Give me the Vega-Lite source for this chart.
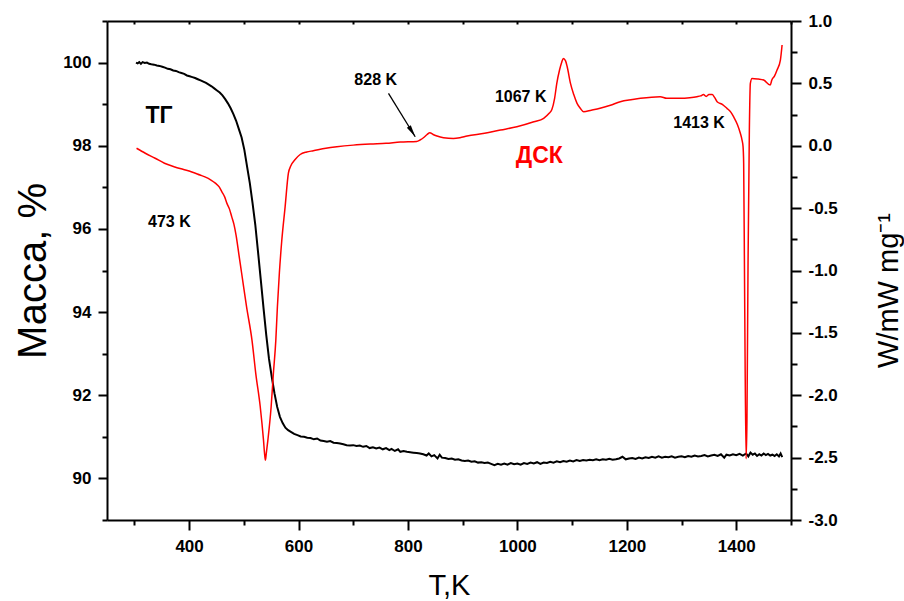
{
  "$schema": "https://vega.github.io/schema/vega-lite/v6.json",
  "width": 684,
  "height": 499,
  "autosize": {"type": "none"},
  "padding": {"left": 107, "top": 21, "right": 113, "bottom": 81},
  "background": "white",
  "config": {
    "view": {"stroke": null},
    "axis": {
      "grid": false,
      "labelFont": "Liberation Sans",
      "labelFontWeight": "bold",
      "labelFontSize": 17,
      "labelColor": "black",
      "tickColor": "black",
      "tickWidth": 2,
      "domainColor": "black",
      "domainWidth": 2,
      "titleFont": "Liberation Sans",
      "titleFontWeight": "normal",
      "titleColor": "black"
    }
  },
  "datasets": {
    "tg": [
      {"T":303,"m":100.00},{"T":306,"m":99.98},{"T":309,"m":100.01},{"T":312,"m":99.97},{"T":315,"m":100.01},{"T":319,"m":99.99},{"T":323,"m":100.00},{"T":327,"m":99.97},{"T":331,"m":99.96},{"T":336,"m":99.95},{"T":341,"m":99.93},{"T":346,"m":99.92},{"T":351,"m":99.90},{"T":356,"m":99.88},{"T":361,"m":99.85},{"T":366,"m":99.84},{"T":371,"m":99.81},{"T":376,"m":99.80},{"T":381,"m":99.77},{"T":386,"m":99.75},{"T":391,"m":99.73},{"T":396,"m":99.69},{"T":401,"m":99.67},{"T":406,"m":99.65},{"T":411,"m":99.63},{"T":416,"m":99.60},{"T":421,"m":99.57},{"T":426,"m":99.54},{"T":431,"m":99.51},{"T":436,"m":99.47},{"T":441,"m":99.43},{"T":446,"m":99.38},{"T":451,"m":99.33},{"T":456,"m":99.28},{"T":461,"m":99.21},{"T":466,"m":99.12},{"T":471,"m":99.02},{"T":476,"m":98.90},{"T":481,"m":98.76},{"T":486,"m":98.60},{"T":491,"m":98.40},{"T":496,"m":98.20},{"T":501,"m":97.90},{"T":506,"m":97.50},{"T":511,"m":97.10},{"T":516,"m":96.62},{"T":521,"m":96.10},{"T":526,"m":95.45},{"T":531,"m":94.78},{"T":536,"m":94.10},{"T":541,"m":93.45},{"T":546,"m":92.88},{"T":551,"m":92.45},{"T":556,"m":92.05},{"T":561,"m":91.72},{"T":566,"m":91.48},{"T":571,"m":91.33},{"T":576,"m":91.22},{"T":581,"m":91.16},{"T":586,"m":91.12},{"T":592,"m":91.07},{"T":598,"m":91.04},{"T":604,"m":91.01},{"T":610,"m":91.00},{"T":616,"m":90.98},{"T":622,"m":90.97},{"T":628,"m":90.94},{"T":634,"m":90.96},{"T":640,"m":90.91},{"T":646,"m":90.90},{"T":652,"m":90.88},{"T":658,"m":90.90},{"T":664,"m":90.86},{"T":670,"m":90.85},{"T":676,"m":90.84},{"T":682,"m":90.82},{"T":688,"m":90.80},{"T":694,"m":90.79},{"T":700,"m":90.80},{"T":706,"m":90.78},{"T":712,"m":90.79},{"T":718,"m":90.76},{"T":724,"m":90.78},{"T":730,"m":90.73},{"T":736,"m":90.75},{"T":742,"m":90.72},{"T":748,"m":90.74},{"T":754,"m":90.70},{"T":760,"m":90.73},{"T":766,"m":90.68},{"T":770,"m":90.71},{"T":776,"m":90.66},{"T":782,"m":90.70},{"T":786,"m":90.64},{"T":792,"m":90.66},{"T":798,"m":90.64},{"T":804,"m":90.63},{"T":810,"m":90.62},{"T":816,"m":90.61},{"T":822,"m":90.60},{"T":828,"m":90.58},{"T":834,"m":90.55},{"T":838,"m":90.60},{"T":843,"m":90.53},{"T":848,"m":90.56},{"T":854,"m":90.48},{"T":858,"m":90.57},{"T":862,"m":90.50},{"T":868,"m":90.49},{"T":874,"m":90.47},{"T":880,"m":90.48},{"T":886,"m":90.45},{"T":892,"m":90.46},{"T":898,"m":90.43},{"T":904,"m":90.42},{"T":910,"m":90.43},{"T":916,"m":90.40},{"T":922,"m":90.41},{"T":928,"m":90.38},{"T":934,"m":90.39},{"T":940,"m":90.37},{"T":946,"m":90.38},{"T":952,"m":90.35},{"T":958,"m":90.32},{"T":964,"m":90.35},{"T":970,"m":90.33},{"T":976,"m":90.36},{"T":982,"m":90.33},{"T":988,"m":90.37},{"T":994,"m":90.34},{"T":1000,"m":90.36},{"T":1006,"m":90.33},{"T":1012,"m":90.37},{"T":1018,"m":90.35},{"T":1024,"m":90.38},{"T":1030,"m":90.36},{"T":1036,"m":90.39},{"T":1042,"m":90.35},{"T":1048,"m":90.38},{"T":1054,"m":90.37},{"T":1060,"m":90.40},{"T":1066,"m":90.38},{"T":1072,"m":90.41},{"T":1078,"m":90.39},{"T":1084,"m":90.42},{"T":1090,"m":90.40},{"T":1096,"m":90.43},{"T":1102,"m":90.41},{"T":1108,"m":90.44},{"T":1114,"m":90.42},{"T":1120,"m":90.44},{"T":1126,"m":90.43},{"T":1132,"m":90.45},{"T":1138,"m":90.44},{"T":1144,"m":90.46},{"T":1150,"m":90.44},{"T":1156,"m":90.46},{"T":1162,"m":90.45},{"T":1168,"m":90.47},{"T":1174,"m":90.45},{"T":1180,"m":90.46},{"T":1186,"m":90.48},{"T":1192,"m":90.52},{"T":1198,"m":90.46},{"T":1204,"m":90.48},{"T":1210,"m":90.49},{"T":1216,"m":90.47},{"T":1222,"m":90.50},{"T":1228,"m":90.48},{"T":1234,"m":90.51},{"T":1240,"m":90.49},{"T":1246,"m":90.52},{"T":1252,"m":90.50},{"T":1258,"m":90.53},{"T":1264,"m":90.50},{"T":1270,"m":90.52},{"T":1276,"m":90.51},{"T":1282,"m":90.53},{"T":1288,"m":90.50},{"T":1294,"m":90.52},{"T":1300,"m":90.53},{"T":1306,"m":90.51},{"T":1312,"m":90.54},{"T":1318,"m":90.52},{"T":1324,"m":90.55},{"T":1330,"m":90.53},{"T":1336,"m":90.54},{"T":1342,"m":90.56},{"T":1348,"m":90.53},{"T":1354,"m":90.55},{"T":1360,"m":90.57},{"T":1366,"m":90.54},{"T":1372,"m":90.58},{"T":1378,"m":90.50},{"T":1382,"m":90.57},{"T":1388,"m":90.55},{"T":1394,"m":90.58},{"T":1400,"m":90.56},{"T":1406,"m":90.59},{"T":1412,"m":90.55},{"T":1418,"m":90.60},{"T":1422,"m":90.53},{"T":1426,"m":90.62},{"T":1430,"m":90.57},{"T":1434,"m":90.60},{"T":1438,"m":90.54},{"T":1442,"m":90.58},{"T":1446,"m":90.55},{"T":1450,"m":90.60},{"T":1454,"m":90.56},{"T":1458,"m":90.59},{"T":1462,"m":90.55},{"T":1466,"m":90.57},{"T":1470,"m":90.54},{"T":1474,"m":90.58},{"T":1478,"m":90.53},{"T":1481,"m":90.60},{"T":1484,"m":90.51}
    ],
    "dsc": [
      {"T":304,"w":-0.02},{"T":320,"w":-0.06},{"T":338,"w":-0.10},{"T":355,"w":-0.14},{"T":374,"w":-0.17},{"T":390,"w":-0.19},{"T":405,"w":-0.21},{"T":420,"w":-0.235},{"T":429,"w":-0.25},{"T":440,"w":-0.275},{"T":448,"w":-0.30},{"T":455,"w":-0.33},{"T":460,"w":-0.37},{"T":465,"w":-0.41},{"T":469,"w":-0.46},{"T":474,"w":-0.51},{"T":478,"w":-0.57},{"T":482,"w":-0.63},{"T":486,"w":-0.72},{"T":491,"w":-0.87},{"T":496,"w":-1.02},{"T":505,"w":-1.29},{"T":515,"w":-1.56},{"T":522,"w":-1.83},{"T":530,"w":-2.09},{"T":536,"w":-2.36},{"T":538,"w":-2.47},{"T":539.5,"w":-2.52},{"T":541,"w":-2.47},{"T":544,"w":-2.36},{"T":550,"w":-2.09},{"T":554,"w":-1.83},{"T":558.5,"w":-1.56},{"T":561.4,"w":-1.29},{"T":565,"w":-1.02},{"T":569.4,"w":-0.76},{"T":575.5,"w":-0.49},{"T":581.5,"w":-0.22},{"T":586,"w":-0.16},{"T":593.8,"w":-0.11},{"T":603,"w":-0.07},{"T":615,"w":-0.05},{"T":627,"w":-0.04},{"T":650,"w":-0.02},{"T":670,"w":-0.008},{"T":700,"w":0.005},{"T":731,"w":0.014},{"T":760,"w":0.02},{"T":786,"w":0.03},{"T":816,"w":0.035},{"T":822,"w":0.046},{"T":830,"w":0.07},{"T":835,"w":0.09},{"T":840,"w":0.105},{"T":846,"w":0.09},{"T":853,"w":0.078},{"T":865,"w":0.065},{"T":883,"w":0.059},{"T":895,"w":0.065},{"T":908,"w":0.078},{"T":940,"w":0.10},{"T":969,"w":0.126},{"T":999,"w":0.152},{"T":1030,"w":0.192},{"T":1048,"w":0.22},{"T":1058,"w":0.26},{"T":1063,"w":0.29},{"T":1068,"w":0.38},{"T":1072,"w":0.50},{"T":1077,"w":0.607},{"T":1081,"w":0.67},{"T":1084,"w":0.70},{"T":1088,"w":0.68},{"T":1091,"w":0.633},{"T":1097,"w":0.50},{"T":1103,"w":0.41},{"T":1109,"w":0.34},{"T":1115,"w":0.30},{"T":1121,"w":0.273},{"T":1135,"w":0.285},{"T":1151,"w":0.30},{"T":1170,"w":0.325},{"T":1188,"w":0.353},{"T":1210,"w":0.37},{"T":1225,"w":0.38},{"T":1261,"w":0.393},{"T":1273,"w":0.38},{"T":1298,"w":0.38},{"T":1315,"w":0.385},{"T":1328,"w":0.393},{"T":1335,"w":0.40},{"T":1340,"w":0.41},{"T":1345,"w":0.395},{"T":1350,"w":0.41},{"T":1356,"w":0.41},{"T":1360,"w":0.39},{"T":1365,"w":0.353},{"T":1375,"w":0.33},{"T":1383,"w":0.30},{"T":1390,"w":0.27},{"T":1395,"w":0.233},{"T":1402,"w":0.17},{"T":1407.4,"w":0.10},{"T":1410.5,"w":0.046},{"T":1412.4,"w":-0.007},{"T":1413.5,"w":-0.14},{"T":1415.3,"w":-1.21},{"T":1417.9,"w":-2.51},{"T":1419.5,"w":-2.2},{"T":1421.5,"w":-0.94},{"T":1423.9,"w":0.126},{"T":1425.7,"w":0.50},{"T":1428.8,"w":0.54},{"T":1440,"w":0.535},{"T":1450,"w":0.527},{"T":1462,"w":0.487},{"T":1465,"w":0.527},{"T":1470,"w":0.56},{"T":1474.5,"w":0.607},{"T":1480.6,"w":0.687},{"T":1483.7,"w":0.808}
    ],
    "tgLabel": [{"T":345,"m":98.71,"label":"ТГ"}],
    "peaks": [
      {"T":364,"w":-0.612,"label":"473 K"},
      {"T":741,"w":0.531,"label":"828 K"},
      {"T":1006,"w":0.388,"label":"1067 K"},
      {"T":1332,"w":0.186,"label":"1413 K"}
    ],
    "dscLabel": [{"T":1040,"w":-0.083,"label":"ДСК"}],
    "arrow": [{"T":764.4,"w":0.42,"T2":813.2,"w2":0.072}],
    "arrowHead": [{"T":807.5,"w":0.113}]
  },
  "layer": [
    {
      "data": {"name": "tg"},
      "mark": {"type": "line", "color": "black", "strokeWidth": 2},
      "encoding": {
        "x": {"field": "T", "type": "quantitative", "scale": {"domain": [250, 1500], "nice": false, "zero": false},
          "axis": {"orient": "bottom", "values": [400, 600, 800, 1000, 1200, 1400], "format": "d", "tickSize": 10, "labelPadding": 8, "title": "T,K", "titleFontSize": 29, "titleY": 74, "titleBaseline": "alphabetic"}},
        "y": {"field": "m", "type": "quantitative", "scale": {"domain": [89, 101], "nice": false, "zero": false},
          "axis": {"orient": "left", "values": [90, 92, 94, 96, 98, 100], "tickSize": 9, "labelPadding": 7, "title": "Масса, %", "titleFontSize": 40, "titleX": -62, "titleBaseline": "alphabetic"}}
      }
    },
    {
      "data": {"name": "dsc"},
      "mark": {"type": "line", "color": "#ff0000", "strokeWidth": 1.5, "interpolate": "monotone"},
      "encoding": {
        "x": {"field": "T", "type": "quantitative",
          "axis": {"orient": "top", "values": [300, 400, 500, 600, 700, 800, 900, 1000, 1100, 1200, 1300, 1400, 1500], "tickSize": -3, "labels": false, "title": null}},
        "y": {"field": "w", "type": "quantitative", "scale": {"domain": [-3, 1], "nice": false, "zero": false},
          "axis": {"orient": "right", "values": [-3, -2.5, -2, -1.5, -1, -0.5, 0, 0.5, 1], "labelExpr": "replace(format(datum.value, '.1f'), '\u2212', '-')", "tickSize": 10, "labelPadding": 7, "title": "W/mW mg⁻¹", "titleFontSize": 29, "titleAngle": 270, "titleX": 106, "titleY": 269, "titleBaseline": "alphabetic"}}
      }
    },
    {
      "data": {"name": "tgLabel"},
      "mark": {"type": "text", "font": "Liberation Sans", "fontWeight": "bold", "fontSize": 23, "color": "black"},
      "encoding": {
        "x": {"field": "T", "type": "quantitative",
          "axis": {"orient": "bottom", "values": [300, 500, 700, 900, 1100, 1300, 1500], "tickSize": 5, "labels": false, "domain": false, "title": null}},
        "y": {"field": "m", "type": "quantitative", "scale": {"domain": [89, 101], "nice": false, "zero": false},
          "axis": {"orient": "left", "values": [89, 91, 93, 95, 97, 99, 101], "tickSize": 5, "labels": false, "domain": false, "title": null}},
        "text": {"field": "label"}
      }
    },
    {
      "data": {"name": "peaks"},
      "mark": {"type": "text", "font": "Liberation Sans", "fontWeight": "bold", "fontSize": 16, "color": "black"},
      "encoding": {
        "x": {"field": "T", "type": "quantitative", "axis": null},
        "y": {"field": "w", "type": "quantitative", "scale": {"domain": [-3, 1], "nice": false, "zero": false},
          "axis": {"orient": "right", "values": [-2.75, -2.25, -1.75, -1.25, -0.75, -0.25, 0.25, 0.75], "tickSize": 6, "labels": false, "domain": false, "title": null}},
        "text": {"field": "label"}
      }
    },
    {
      "data": {"name": "dscLabel"},
      "mark": {"type": "text", "font": "Liberation Sans", "fontWeight": "bold", "fontSize": 23, "color": "#ff0000"},
      "encoding": {
        "x": {"field": "T", "type": "quantitative", "axis": null},
        "y": {"field": "w", "type": "quantitative", "scale": {"domain": [-3, 1], "nice": false, "zero": false}, "axis": null},
        "text": {"field": "label"}
      }
    },
    {
      "data": {"name": "arrow"},
      "mark": {"type": "rule", "color": "black", "strokeWidth": 1.3},
      "encoding": {
        "x": {"field": "T", "type": "quantitative", "axis": null},
        "x2": {"field": "T2"},
        "y": {"field": "w", "type": "quantitative", "scale": {"domain": [-3, 1], "nice": false, "zero": false}, "axis": null},
        "y2": {"field": "w2"}
      }
    },
    {
      "data": {"name": "arrowHead"},
      "mark": {"type": "point", "shape": "M0,-1L-0.38,1L0.38,1Z", "filled": true, "color": "black", "opacity": 1, "size": 150, "angle": 148},
      "encoding": {
        "x": {"field": "T", "type": "quantitative", "axis": null},
        "y": {"field": "w", "type": "quantitative", "scale": {"domain": [-3, 1], "nice": false, "zero": false}, "axis": null}
      }
    }
  ],
  "resolve": {"scale": {"y": "independent"}, "axis": {"x": "independent", "y": "independent"}}
}
